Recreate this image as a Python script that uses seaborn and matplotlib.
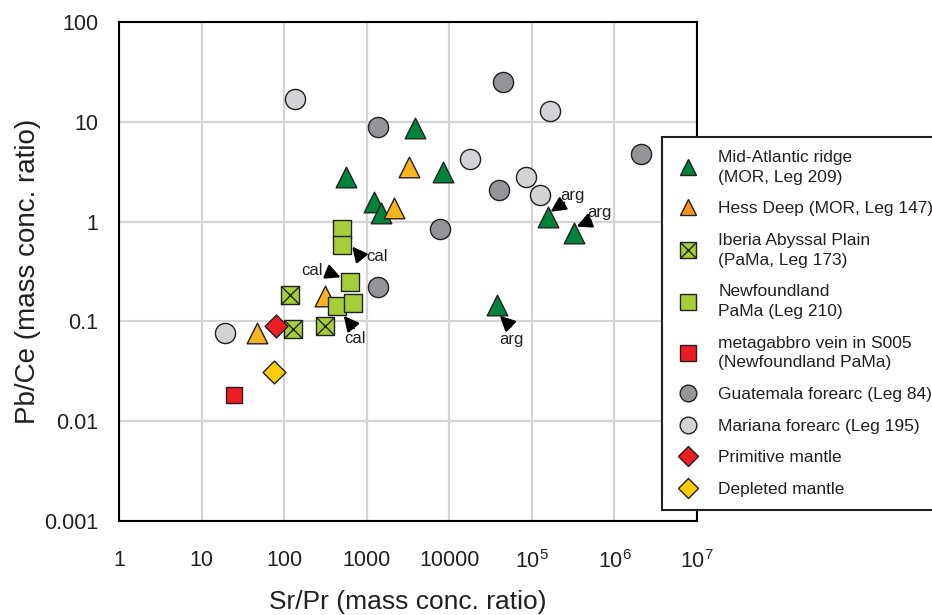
import matplotlib
matplotlib.use("Agg")
import matplotlib.pyplot as plt
from matplotlib.lines import Line2D
from matplotlib.transforms import offset_copy
from matplotlib.ticker import NullLocator
import seaborn as sns

# Sr/Pr and Pb/Ce
mar_x = [3860, 8440, 560, 1230, 1480, 155000, 320000, 37300]
mar_y = [8.6, 3.16, 2.8, 1.58, 1.21, 1.12, 0.765, 0.147]
hess_x = [3270, 2150, 312, 47]
hess_y = [3.55, 1.36, 0.178, 0.0766]
guat_x = [1380, 7690, 1380, 44200, 2.07e6, 39900]
guat_y = [8.8, 0.845, 0.219, 24.8, 4.72, 2.06]
mari_x = [136, 19.4, 17900, 163700, 85300, 124000]
mari_y = [17.1, 0.0766, 4.2, 12.8, 2.82, 1.84]
iber_x = [117, 309, 129]
iber_y = [0.182, 0.091, 0.0845]
newf_x = [505, 505, 627, 432, 675]
newf_y = [0.845, 0.585, 0.25, 0.144, 0.153]
vein_x = [24.9]
vein_y = [0.0185]
prim_x = [79]
prim_y = [0.089]
depl_x = [75]
depl_y = [0.031]

xticks = [1, 10, 100, 1000, 10000, 1e5, 1e6, 1e7]
xticklabels = ["1", "10", "100", "1000", "10000",
               r"$\mathregular{10^{5}}$", r"$\mathregular{10^{6}}$", r"$\mathregular{10^{7}}$"]
yticks = [0.001, 0.01, 0.1, 1, 10, 100]
yticklabels = ["0.001", "0.01", "0.1", "1", "10", "100"]

# label, x, y, then pixel offsets of text, arrow tail, arrow tip
notes = [
    ("cal", 505, 0.585, 34.7, 11.7, 19.4, 13.3, 10, 1.7),
    ("cal", 627, 0.25, -38.3, -11, -23.3, -10, -9.3, -4.4),
    ("cal", 432, 0.144, 18.8, 32.5, 17.1, 22.5, 7.1, 10.2),
    ("arg", 155000, 1.12, 24.6, -21, 16.6, -14, 3, -5),
    ("arg", 320000, 0.765, 25.5, -21, 17, -12.6, 3, -6.6),
    ("arg", 37300, 0.147, 15, 34.3, 14.3, 21.7, 3.3, 11),
]

sns.set_theme(style="white")
plt.rcParams["font.family"] = ["Liberation Sans", "DejaVu Sans"]
plt.rcParams["mathtext.fontset"] = "custom"
plt.rcParams["mathtext.rm"] = "Liberation Sans"

EDGE = "#231f20"
fig = plt.figure(figsize=(9.32, 6.15), dpi=100)
ax = fig.add_axes([0.1277, 0.1528, 0.6202, 0.8114])

groups = [
    (mar_x, mar_y, "^", "#00843d", 220),
    (hess_x, hess_y, "^", "#f6b51d", 220),
    (guat_x, guat_y, "o", "#939598", 210),
    (mari_x, mari_y, "o", "#d1d3d4", 210),
    (iber_x, iber_y, "s", "#a6ce39", 165),
    (newf_x, newf_y, "s", "#a6ce39", 165),
    (vein_x, vein_y, "s", "#ed1c24", 125),
    (prim_x, prim_y, "D", "#ed1c24", 135),
    (depl_x, depl_y, "D", "#ffcc05", 135),
]
for gx, gy, mk, col, size in groups:
    sns.scatterplot(x=gx, y=gy, marker=mk, s=size, color=col, edgecolor=EDGE,
                    linewidth=1, ax=ax, zorder=3, legend=False)
    if gx is iber_x:
        sns.scatterplot(x=gx, y=gy, marker="x", s=165, color=EDGE,
                        linewidth=1, ax=ax, zorder=3.1, legend=False)

ax.set_xscale("log")
ax.set_yscale("log")
ax.set_xlim(1, 1e7)
ax.set_ylim(1e-3, 100)
ax.set_xticks(xticks)
ax.set_xticklabels(xticklabels)
ax.set_yticks(yticks)
ax.set_yticklabels(yticklabels)
ax.xaxis.set_minor_locator(NullLocator())
ax.yaxis.set_minor_locator(NullLocator())
ax.grid(True, color="#d4d4d4", lw=1.6)
ax.set_axisbelow(True)
for sp in ax.spines.values():
    sp.set_color("black")
    sp.set_linewidth(1.5)
ax.tick_params(direction="out", length=11, width=1.5, color="black",
               labelsize=15.5, labelcolor="#231f20")
ax.tick_params(axis="x", pad=10)
ax.tick_params(axis="y", pad=4)
ax.set_xlabel("Sr/Pr (mass conc. ratio)", fontsize=19, color="#231f20", labelpad=12)
ax.set_ylabel("Pb/Ce (mass conc. ratio)", fontsize=20, color="#231f20", labelpad=2)

px = 0.72
for lab, x, y, tx, ty, ax_, ay_, bx, by in notes:
    ax.annotate(lab, xy=(x, y), xytext=(tx * px, -ty * px), textcoords="offset points",
                ha="center", va="center", fontsize=12, color="#231f20", zorder=4)
    ax.annotate("", xy=(x, y), xycoords=offset_copy(ax.transData, fig=fig, x=bx * px, y=-by * px, units="points"),
                xytext=(x, y), textcoords=offset_copy(ax.transData, fig=fig, x=ax_ * px, y=-ay_ * px, units="points"),
                arrowprops=dict(arrowstyle="-|>,head_length=0.9,head_width=0.45", color="black",
                                lw=1.6, shrinkA=0, shrinkB=0, mutation_scale=10), zorder=4)

def h(mk, col, ms=12):
    return Line2D([], [], marker=mk, ls="none", ms=ms, mfc=col, mec=EDGE, mew=1)

handles = [
    h("^", "#00843d"),
    h("^", "#f7941d"),
    (h("s", "#a6ce39", 11), Line2D([], [], marker="x", ls="none", ms=11, color=EDGE, mew=1)),
    h("s", "#a6ce39", 11),
    h("s", "#ed1c24", 11),
    h("o", "#939598"),
    h("o", "#d1d3d4"),
    h("D", "#ed1c24", 9.8),
    h("D", "#ffcc05", 9.8),
]
labels = [
    "Mid-Atlantic ridge\n(MOR, Leg 209)",
    "Hess Deep (MOR, Leg 147)",
    "Iberia Abyssal Plain\n(PaMa, Leg 173)",
    "Newfoundland\nPaMa (Leg 210)",
    "metagabbro vein in S005\n(Newfoundland PaMa)",
    "Guatemala forearc (Leg 84)",
    "Mariana forearc (Leg 195)",
    "Primitive mantle",
    "Depleted mantle",
]
leg = ax.legend(handles, labels, loc="upper left", bbox_to_anchor=(662 / 932, 1 - 137 / 615),
                bbox_transform=fig.transFigure, borderaxespad=0, frameon=True, fancybox=False,
                edgecolor="#231f20", framealpha=1, fontsize=12.5, borderpad=0.75,
                labelspacing=0.95, handlelength=1.5, handletextpad=1.0)
leg.get_frame().set_linewidth(1.5)
leg.set_zorder(6)
for t in leg.get_texts():
    t.set_color("#231f20")
    t.set_linespacing(1.4)

fig.savefig("out.png", dpi=100)
